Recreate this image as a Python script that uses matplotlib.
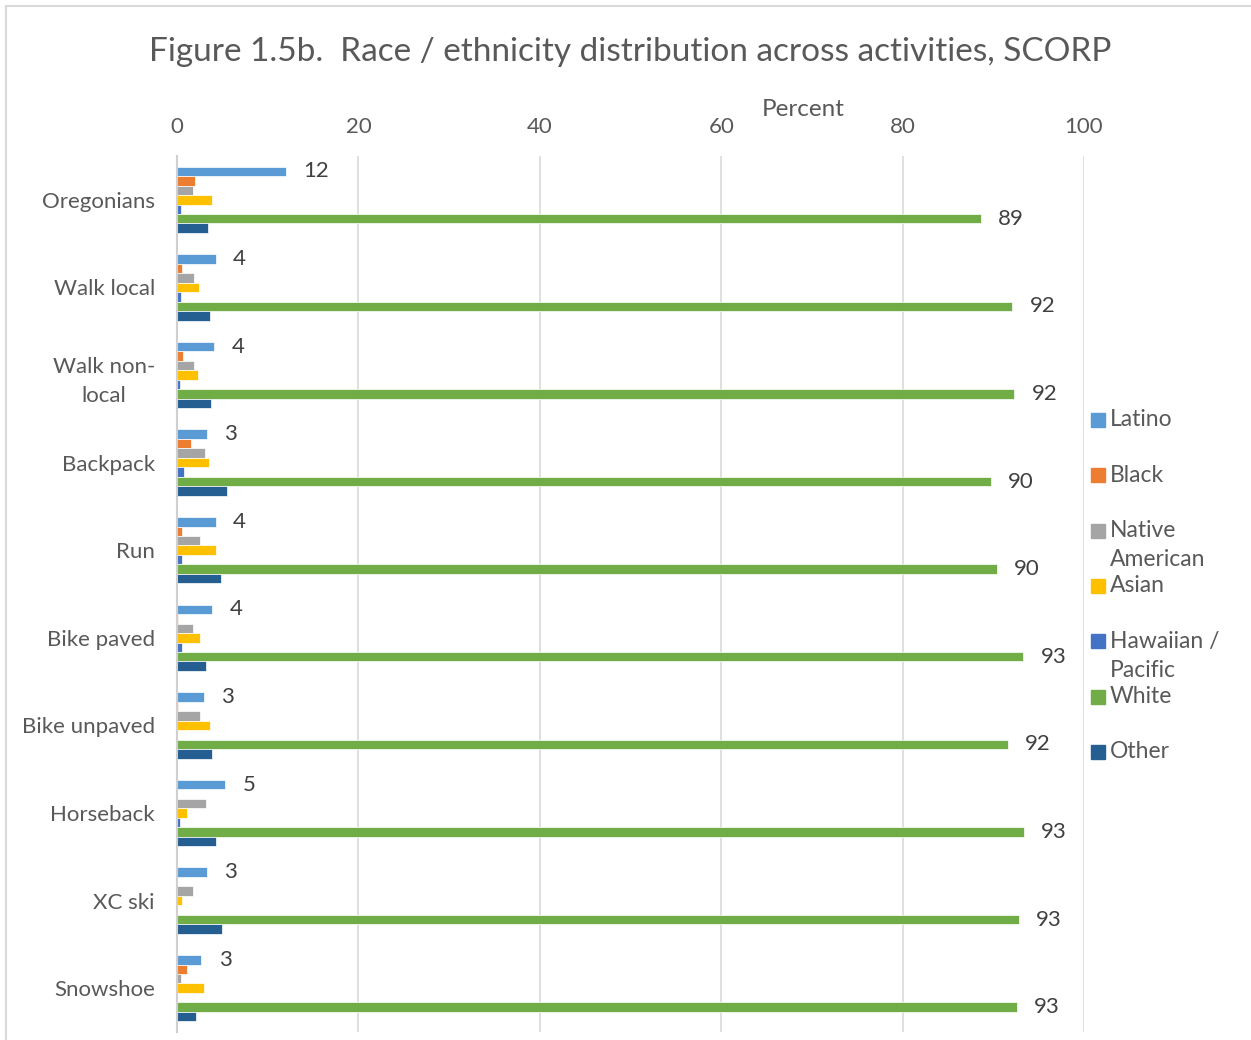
import matplotlib.pyplot as plt
import matplotlib.patches as patches
import numpy as np

plt.rcParams['font.family'] = ['Lato', 'DejaVu Sans']

categories = ['Oregonians', 'Walk local', 'Walk non-\nlocal', 'Backpack', 'Run',
              'Bike paved', 'Bike unpaved', 'Horseback', 'XC ski', 'Snowshoe']

series = ['Latino', 'Black', 'Native\nAmerican', 'Asian', 'Hawaiian /\nPacific', 'White', 'Other']
colors = ['#5B9BD5', '#ED7D31', '#A5A5A5', '#FFC000', '#4472C4', '#70AD47', '#255E91']

latino = [12.0, 4.3, 4.1, 3.3, 4.3, 3.9, 3.0, 5.3, 3.3, 2.7]
black = [2.0, 0.6, 0.7, 1.5, 0.6, 0.1, 0.15, 0.0, 0.0, 1.1]
native = [1.8, 1.9, 1.9, 3.1, 2.5, 1.8, 2.5, 3.2, 1.8, 0.4]
asian = [3.9, 2.4, 2.3, 3.5, 4.3, 2.5, 3.6, 1.1, 0.5, 3.0]
hawaiian = [0.4, 0.4, 0.3, 0.8, 0.5, 0.5, 0.0, 0.3, 0.0, 0.0]
white = [88.6, 92.1, 92.3, 89.7, 90.4, 93.3, 91.6, 93.4, 92.8, 92.6]
other = [3.4, 3.6, 3.7, 5.5, 4.9, 3.2, 3.9, 4.3, 5.0, 2.1]

values = [latino, black, native, asian, hawaiian, white, other]
labelled = [0, 5]  # Latino and White carry value labels

grey = '#595959'

fig = plt.figure(figsize=(12.51, 10.4), dpi=100)
ax = fig.add_axes([177 / 1251, 1 - 1032 / 1040, (1084 - 177) / 1251, (1032 - 156) / 1040])

# chart border
fig.add_artist(patches.Rectangle((6 / 1251, -0.01), 1.1, 1 - 6 / 1040 + 0.01,
                                 transform=fig.transFigure, fill=False,
                                 edgecolor='#d9d9d9', linewidth=1.5))

y = np.arange(len(categories))
h = 0.108
for j, vals in enumerate(values):
    pos = y + (j - 3) * h
    ax.barh(pos, vals, height=h, color=colors[j], edgecolor='white', linewidth=0.5)
    if j in labelled:
        for p, v in zip(pos, vals):
            ax.text(v + 1.9, p, f'{v:.0f}', va='center', ha='left', fontsize=16, color='#404040')

ax.set_xlim(0, 100)
ax.set_ylim(len(categories) - 0.5, -0.5)
ax.set_xticks(range(0, 101, 20))
ax.xaxis.tick_top()
ax.tick_params(axis='x', length=0, pad=14, labelsize=16, labelcolor=grey)
ax.tick_params(axis='y', length=0, pad=16, labelsize=16, labelcolor=grey)
ax.set_yticks(y)
ax.set_yticklabels(categories)
for lab in ax.get_yticklabels():
    lab.set_multialignment('center')
    lab.set_linespacing(1.55)

ax.grid(axis='x', color='#d9d9d9', linewidth=1.2)
ax.set_axisbelow(True)
for s in ['top', 'right', 'bottom']:
    ax.spines[s].set_visible(False)
ax.spines['left'].set_color('#d0d0d0')
ax.spines['left'].set_linewidth(1.5)

fig.text(630 / 1251, 1 - 52 / 1040, 'Figure 1.5b.  Race / ethnicity distribution across activities, SCORP',
         ha='center', va='center', fontsize=24, color=grey)
fig.text(803 / 1251, 1 - 109 / 1040, 'Percent', ha='center', va='center', fontsize=17.5, color=grey)

# legend drawn by hand to keep the even spacing of the original
for j, name in enumerate(series):
    yc = 420 + j * 55.3
    fig.add_artist(patches.Rectangle((1091 / 1251, 1 - (yc + 7) / 1040), 14 / 1251, 14 / 1040,
                                     transform=fig.transFigure, color=colors[j]))
    for k, line in enumerate(name.split('\n')):
        fig.text(1110 / 1251, 1 - (yc + k * 29) / 1040, line, ha='left', va='center',
                 fontsize=16.5, color=grey)

fig.savefig('out.png')
